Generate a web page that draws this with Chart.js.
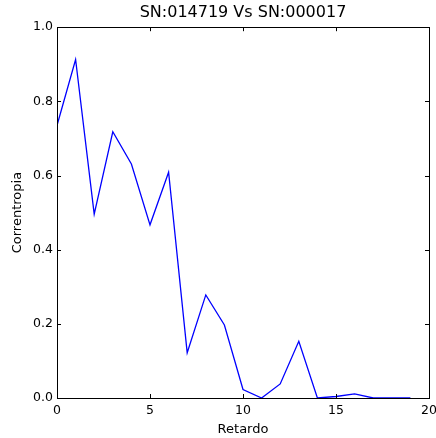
<!DOCTYPE html>
<html>
<head>
<meta charset="utf-8">
<script src="https://cdn.jsdelivr.net/npm/chart.js@4.4.1/dist/chart.umd.min.js"></script>
<style>
  html, body { margin: 0; padding: 0; background: #fff; }
  #wrap { width: 436px; height: 438px; }
</style>
</head>
<body>
<div id="wrap"><canvas id="c" width="436" height="438"></canvas></div>
<script>
// Lag (Retardo) and correntropy value at each lag
const retardo = [0, 1, 2, 3, 4, 5, 6, 7, 8, 9, 10, 11, 12, 13, 14, 15, 16, 17, 18, 19];
const correntropia = [0.735, 0.913, 0.496, 0.718, 0.631, 0.467, 0.609, 0.122, 0.278, 0.197,
                      0.023, 0.0, 0.038, 0.153, 0.0, 0.004, 0.011, 0.0, 0.0, 0.0];
const xTicks = [0, 5, 10, 15, 20];
const yTicks = [0.0, 0.2, 0.4, 0.6, 0.8, 1.0];

const FONT = "'DejaVu Sans', sans-serif";

// Frame around the plot area plus inward-pointing ticks on all four sides
const frameTicks = {
  id: 'frameTicks',
  afterDatasetsDraw(chart) {
    const { ctx, chartArea: a, scales } = chart;
    const len = 4;
    ctx.save();
    ctx.strokeStyle = '#000';
    ctx.lineWidth = 1;
    ctx.beginPath();
    xTicks.forEach(v => {
      const x = Math.round(scales.x.getPixelForValue(v)) + 0.5;
      ctx.moveTo(x, a.bottom); ctx.lineTo(x, a.bottom - len);
      ctx.moveTo(x, a.top); ctx.lineTo(x, a.top + len);
    });
    yTicks.forEach(v => {
      const y = Math.round(scales.y.getPixelForValue(v)) + 0.5;
      ctx.moveTo(a.left, y); ctx.lineTo(a.left + len, y);
      ctx.moveTo(a.right, y); ctx.lineTo(a.right - len, y);
    });
    ctx.stroke();
    ctx.strokeRect(Math.round(a.left) + 0.5, Math.round(a.top) + 0.5,
                   Math.round(a.right - a.left), Math.round(a.bottom - a.top));
    ctx.restore();
  }
};

new Chart(document.getElementById('c'), {
  type: 'line',
  data: {
    datasets: [{
      data: retardo.map((x, i) => ({ x: x, y: correntropia[i] })),
      borderColor: '#0000ff',
      borderWidth: 1.3,
      pointRadius: 0,
      tension: 0,
      fill: false
    }]
  },
  options: {
    responsive: false,
    animation: false,
    devicePixelRatio: 1,
    layout: { padding: { top: 0, right: 0, bottom: 0, left: 0 } },
    plugins: {
      legend: { display: false },
      tooltip: { enabled: false },
      title: {
        display: true,
        text: 'SN:014719 Vs SN:000017',
        fullSize: false,
        color: '#000',
        font: { family: FONT, size: 16, weight: 'normal', lineHeight: 1.2 },
        padding: { top: 3, bottom: 5 }
      }
    },
    scales: {
      x: {
        type: 'linear',
        min: 0, max: 20,
        afterBuildTicks: s => { s.ticks = xTicks.map(v => ({ value: v })); },
        afterFit: s => { s.height = 40; s.paddingLeft = 0; s.paddingRight = 7; },
        grid: { display: false, drawTicks: false },
        border: { display: false },
        ticks: {
          color: '#000',
          padding: 5,
          maxRotation: 0,
          font: { family: FONT, size: 12.5 },
          callback: v => String(v)
        },
        title: {
          display: true, text: 'Retardo', color: '#000',
          font: { family: FONT, size: 13 },
          padding: { top: 0, bottom: 1 }
        }
      },
      y: {
        type: 'linear',
        min: 0, max: 1,
        afterBuildTicks: s => { s.ticks = yTicks.map(v => ({ value: v })); },
        afterFit: s => { s.width = 57; },
        grid: { display: false, drawTicks: false },
        border: { display: false },
        ticks: {
          color: '#000',
          padding: 4,
          font: { family: FONT, size: 12.5 },
          callback: v => Number(v).toFixed(1)
        },
        title: {
          display: true, text: 'Correntropia', color: '#000',
          font: { family: FONT, size: 13 },
          padding: { top: 10, bottom: 0 }
        }
      }
    }
  },
  plugins: [frameTicks]
});
</script>
</body>
</html>
